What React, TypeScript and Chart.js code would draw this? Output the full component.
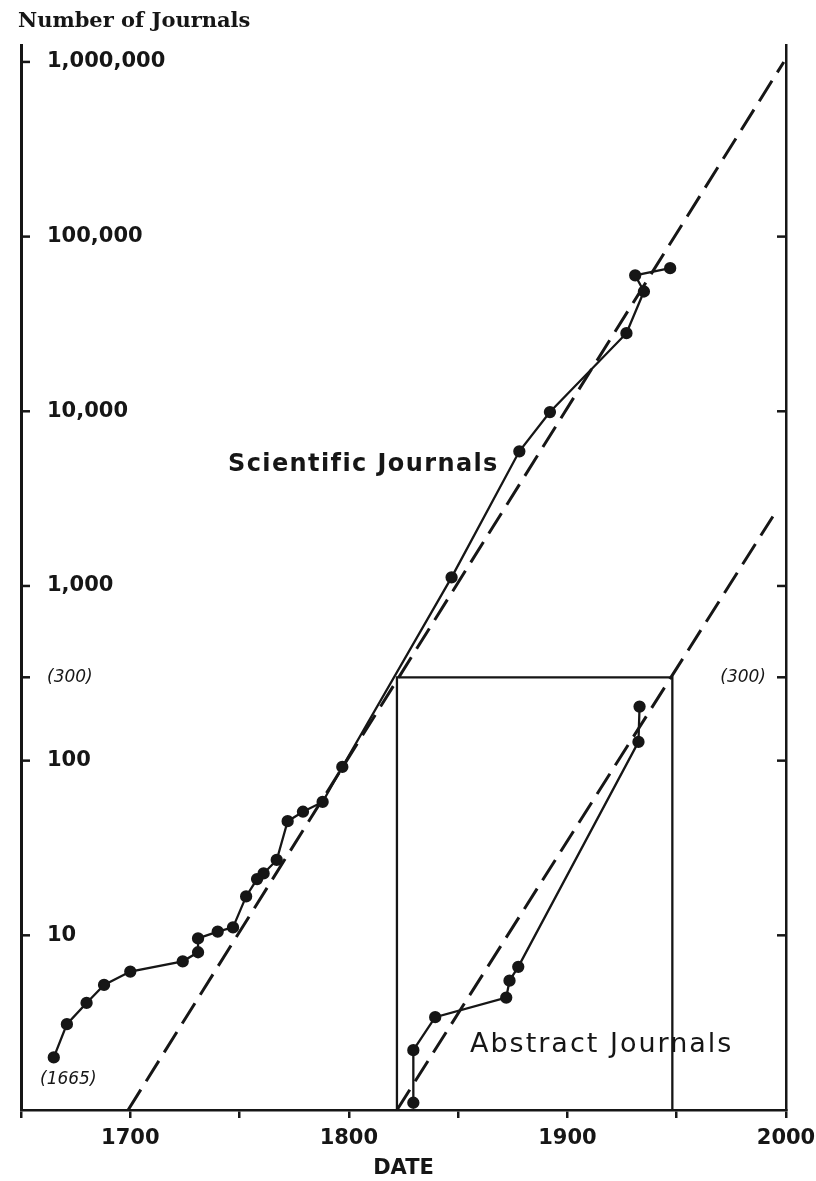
import React, { useEffect, useRef } from "react";
import { Chart, registerables } from "chart.js";

Chart.register(...registerables);

// ---- data ----
const sciYears = [1665, 1671, 1680, 1688, 1700, 1724, 1731, 1731, 1740, 1747, 1753, 1758, 1761, 1767, 1772, 1779, 1788, 1797, 1847, 1878, 1892, 1927, 1935, 1931, 1947];
const sciCounts = [2.0, 3.1, 4.1, 5.2, 6.2, 7.1, 8.0, 9.6, 10.5, 11.1, 16.7, 21, 22.6, 27, 45, 51, 58, 92, 1120, 5900, 9900, 28000, 48500, 60000, 66000];

const absYears = [1829.5, 1829.5, 1839.5, 1872, 1873.5, 1877.5, 1932.5, 1933];
const absCounts = [1.1, 2.2, 3.4, 4.4, 5.5, 6.6, 128, 204];

const sciTrendYears = [1699, 1999];
const sciTrendCounts = [1, 1000000];
const absTrendYears = [1822, 1994];
const absTrendCounts = [1, 2500];

const boxYears = [1822, 1822, 1948, 1948];
const boxCounts = [1, 300, 300, 1];

const xTickValues = [1650, 1700, 1750, 1800, 1850, 1900, 1950, 2000];
const xTickLabels = ["", "1700", "", "1800", "", "1900", "", "2000"];
const yTickValues = [10, 100, 300, 1000, 10000, 100000, 1000000];
const yTickLabels = ["10", "100", "(300)", "1,000", "10,000", "100,000", "1,000,000"];
const y2TickValues = [10, 100, 300, 1000, 10000, 100000];
const y2TickLabels = ["", "", "(300)", "", "", ""];

const INK = "#161616";
const SANS = "'DejaVu Sans', sans-serif";

const toPoints = (xs: number[], ys: number[]) => xs.map((x, i) => ({ x, y: ys[i] }));

const overlay = {
  id: "overlay",
  afterDraw(chart: any) {
    const { ctx, chartArea, scales } = chart;
    ctx.save();
    ctx.strokeStyle = INK;
    ctx.lineWidth = 2.5;
    const yS = scales.y;
    const y2S = scales.y2;
    yS.ticks.forEach((t: any) => {
      const p = yS.getPixelForValue(t.value);
      ctx.beginPath();
      ctx.moveTo(chartArea.left, p);
      ctx.lineTo(chartArea.left + 9, p);
      ctx.stroke();
    });
    y2S.ticks.forEach((t: any) => {
      const p = y2S.getPixelForValue(t.value);
      ctx.beginPath();
      ctx.moveTo(chartArea.right - 9, p);
      ctx.lineTo(chartArea.right, p);
      ctx.stroke();
    });
    ctx.fillStyle = INK;
    ctx.textBaseline = "middle";
    ctx.textAlign = "left";
    ctx.font = "bold 21px 'DejaVu Serif', serif";
    ctx.fillText("Number of Journals", 18, 22);
    try { ctx.letterSpacing = "1.4px"; } catch (e) {}
    ctx.font = `bold 24px ${SANS}`;
    ctx.fillText("Scientific Journals", 228, 465);
    try { ctx.letterSpacing = "2px"; } catch (e) {}
    ctx.font = `27px ${SANS}`;
    ctx.fillText("Abstract Journals", 470, 1045);
    try { ctx.letterSpacing = "0px"; } catch (e) {}
    ctx.font = `oblique 17px ${SANS}`;
    ctx.fillText("(1665)", 40, 1080);
    ctx.restore();
  },
};

export default function App() {
  const ref = useRef<HTMLCanvasElement | null>(null);
  useEffect(() => {
    if (!ref.current) return;
    const lineDs = (label: string, xs: number[], ys: number[], extra: any) => ({
      label,
      data: toPoints(xs, ys),
      showLine: true,
      borderColor: INK,
      backgroundColor: INK,
      pointBackgroundColor: INK,
      pointBorderColor: INK,
      tension: 0,
      ...extra,
    });
    const chart = new Chart(ref.current, {
      type: "scatter",
      data: {
        datasets: [
          lineDs("Scientific trend", sciTrendYears, sciTrendCounts, { borderWidth: 3, borderDash: [24, 10], pointRadius: 0 }),
          lineDs("Abstract trend", absTrendYears, absTrendCounts, { borderWidth: 3, borderDash: [24, 10], pointRadius: 0 }),
          lineDs("Box", boxYears, boxCounts, { borderWidth: 2.3, pointRadius: 0 }),
          lineDs("Scientific Journals", sciYears, sciCounts, { borderWidth: 2.3, pointRadius: 5 }),
          lineDs("Abstract Journals", absYears, absCounts, { borderWidth: 2.3, pointRadius: 5 }),
        ],
      },
      options: {
        animation: false,
        responsive: false,
        devicePixelRatio: 1,
        layout: { padding: { top: 45, left: 0, right: 0, bottom: 0 } },
        plugins: { legend: { display: false }, tooltip: { enabled: false }, title: { display: false } },
        scales: {
          x: {
            type: "linear",
            position: "bottom",
            min: 1650,
            max: 2000,
            afterBuildTicks: (s: any) => { s.ticks = xTickValues.map((v) => ({ value: v })); },
            afterFit: (s: any) => { s.height = 71; s.paddingLeft = 0; s.paddingRight = 0; },
            ticks: {
              autoSkip: false,
              maxRotation: 0,
              color: INK,
              padding: 8,
              font: { family: SANS, size: 21, weight: "bold" },
              callback: (v: any) => { const i = xTickValues.indexOf(Number(v)); return i >= 0 ? xTickLabels[i] : ""; },
            },
            grid: { drawOnChartArea: false, drawTicks: true, tickLength: 8, color: INK, lineWidth: 2.5 },
            border: { display: true, color: INK, width: 2.5 },
            title: { display: true, text: "DATE", color: INK, padding: { top: 0, bottom: 0 }, font: { family: SANS, size: 21, weight: "bold" } },
          },
          y: {
            type: "logarithmic",
            position: "left",
            min: 1,
            max: 1250000,
            afterBuildTicks: (s: any) => { s.ticks = yTickValues.map((v) => ({ value: v })); },
            afterFit: (s: any) => { s.width = 21; s.paddingTop = 0; s.paddingBottom = 0; },
            ticks: {
              autoSkip: false,
              mirror: true,
              padding: 26,
              color: INK,
              font: (c: any) => (c.tick && c.tick.value === 300
                ? { family: SANS, size: 17, style: "oblique", weight: "normal" }
                : { family: SANS, size: 21, weight: "bold" }),
              callback: (v: any) => { const i = yTickValues.indexOf(Number(v)); return i >= 0 ? yTickLabels[i] : ""; },
            },
            grid: { drawOnChartArea: false, drawTicks: false },
            border: { display: true, color: INK, width: 3 },
          },
          y2: {
            type: "logarithmic",
            position: "right",
            min: 1,
            max: 1250000,
            afterBuildTicks: (s: any) => { s.ticks = y2TickValues.map((v) => ({ value: v })); },
            afterFit: (s: any) => { s.width = 30; s.paddingTop = 0; s.paddingBottom = 0; },
            ticks: {
              autoSkip: false,
              mirror: true,
              padding: -20,
              color: INK,
              font: { family: SANS, size: 17, style: "oblique" },
              callback: (v: any) => { const i = y2TickValues.indexOf(Number(v)); return i >= 0 ? y2TickLabels[i] : ""; },
            },
            grid: { drawOnChartArea: false, drawTicks: false },
            border: { display: true, color: INK, width: 2.5 },
          },
        },
      } as any,
      plugins: [overlay],
    });
    return () => chart.destroy();
  }, []);
  return (
    <div style={{ position: "absolute", left: 0, top: 0, width: 816, height: 1181, background: "#fff" }}>
      <canvas ref={ref} width={816} height={1181} style={{ display: "block" }} />
    </div>
  );
}
